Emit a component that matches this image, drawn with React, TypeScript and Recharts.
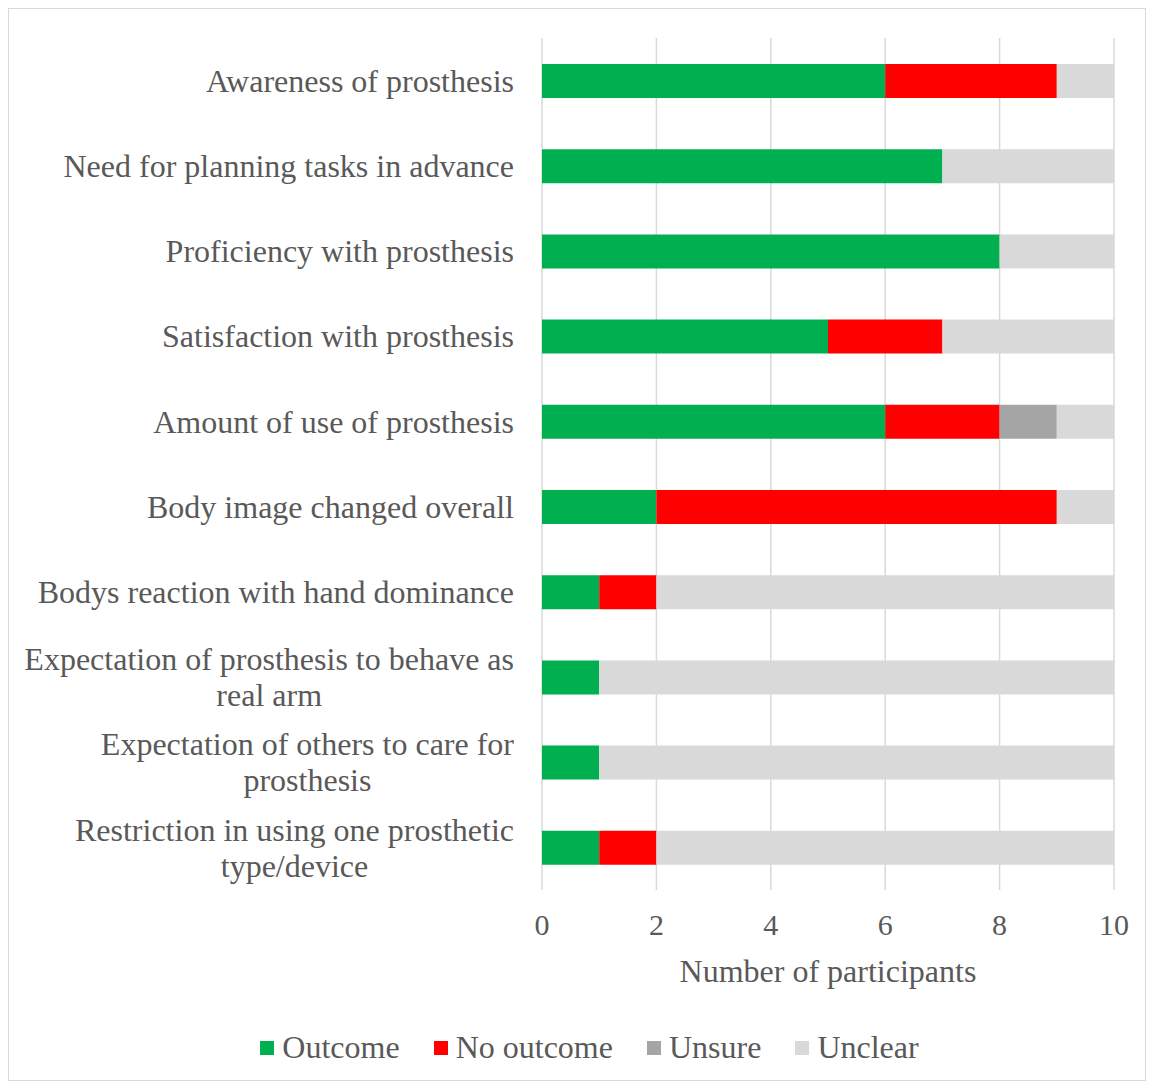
import React from "react";
import {
  Bar,
  BarChart,
  CartesianGrid,
  Legend,
  XAxis,
  YAxis
} from "recharts";

const categories = [
  "Awareness of prosthesis",
  "Need for planning tasks in advance",
  "Proficiency with prosthesis",
  "Satisfaction with prosthesis",
  "Amount of use of prosthesis",
  "Body image changed overall",
  "Bodys reaction with hand dominance",
  "Expectation of prosthesis to behave as real arm",
  "Expectation of others to care for prosthesis",
  "Restriction in using one prosthetic type/device"
];
const outcome = [6, 7, 8, 5, 6, 2, 1, 1, 1, 1];
const noOutcome = [3, 0, 0, 2, 2, 7, 1, 0, 0, 1];
const unsure = [0, 0, 0, 0, 1, 0, 0, 0, 0, 0];
const unclear = [1, 3, 2, 3, 1, 1, 8, 9, 9, 8];
const xTicks = [0, 2, 4, 6, 8, 10];

const series = [
  { key: "outcome", name: "Outcome", color: "#00b050" },
  { key: "noOutcome", name: "No outcome", color: "#ff0000" },
  { key: "unsure", name: "Unsure", color: "#a5a5a5" },
  { key: "unclear", name: "Unclear", color: "#d9d9d9" }
];

const chartData = categories.map((name, i) => ({
  name,
  outcome: outcome[i],
  noOutcome: noOutcome[i],
  unsure: unsure[i],
  unclear: unclear[i]
}));

const FONT = "'Liberation Serif', 'Times New Roman', serif";
const TEXT = "#595959";
const LABEL_SIZE = 32;
const WRAP_WIDTH = 500;

let ctx: CanvasRenderingContext2D | null = null;
const measure = (s: string) => {
  if (!ctx) {
    ctx = document.createElement("canvas").getContext("2d");
    if (ctx) ctx.font = `${LABEL_SIZE}px 'Liberation Serif'`;
  }
  return ctx ? ctx.measureText(s).width : s.length * LABEL_SIZE * 0.45;
};

const wrap = (s: string) => {
  const lines: string[] = [];
  let cur = "";
  s.split(" ").forEach((w) => {
    const next = cur ? cur + " " + w : w;
    if (cur && measure(next) > WRAP_WIDTH) {
      lines.push(cur);
      cur = w;
    } else cur = next;
  });
  if (cur) lines.push(cur);
  return lines;
};

const CategoryTick = ({ x, y, payload }: any) => {
  const lines = wrap(payload.value);
  const maxW = Math.max(...lines.map(measure));
  const cx = x - maxW / 2;
  const lh = 36;
  const top = y - ((lines.length - 1) * lh) / 2;
  return (
    <text
      x={cx}
      y={top}
      textAnchor="middle"
      fill={TEXT}
      fontFamily={FONT}
      fontSize={LABEL_SIZE}
    >
      {lines.map((l, i) => (
        <tspan key={i} x={cx} y={top + i * lh} dy="0.35em">
          {l}
        </tspan>
      ))}
    </text>
  );
};

const renderLegend = () => (
  <div
    style={{
      display: "flex",
      justifyContent: "center",
      alignItems: "center",
      paddingLeft: 56,
      fontFamily: FONT,
      fontSize: LABEL_SIZE,
      color: TEXT
    }}
  >
    {series.map((s) => (
      <div
        key={s.key}
        style={{ display: "flex", alignItems: "center", margin: "0 17px" }}
      >
        <span
          style={{
            width: 14,
            height: 14,
            background: s.color,
            display: "inline-block",
            marginRight: 8
          }}
        />
        <span>{s.name}</span>
      </div>
    ))}
  </div>
);

export default function App() {
  return (
    <div
      style={{
        width: 1136,
        height: 1071,
        border: "1px solid #d9d9d9",
        background: "#fff"
      }}
    >
      <BarChart
        width={1136}
        height={1071}
        data={chartData}
        layout="vertical"
        barSize={34}
        margin={{ top: 29, right: 31, left: 0, bottom: 11 }}
      >
        <CartesianGrid
          horizontal={false}
          stroke="#d9d9d9"
          strokeWidth={1.5}
        />
        <XAxis
          type="number"
          domain={[0, 10]}
          ticks={xTicks}
          axisLine={false}
          tickLine={false}
          tickSize={0}
          tickMargin={24}
          height={139}
          tick={{ fill: TEXT, fontFamily: FONT, fontSize: 30 }}
          label={{
            value: "Number of participants",
            position: "insideBottom",
            offset: 47,
            fill: TEXT,
            fontFamily: FONT,
            fontSize: LABEL_SIZE
          }}
        />
        <YAxis
          type="category"
          dataKey="name"
          width={533}
          axisLine={false}
          tickLine={false}
          tickSize={0}
          tickMargin={28}
          interval={0}
          tick={<CategoryTick />}
        />
        <Legend
          verticalAlign="bottom"
          height={40}
          content={renderLegend}
        />
        {series.map((s) => (
          <Bar
            key={s.key}
            dataKey={s.key}
            name={s.name}
            stackId="a"
            fill={s.color}
            isAnimationActive={false}
          />
        ))}
      </BarChart>
    </div>
  );
}
